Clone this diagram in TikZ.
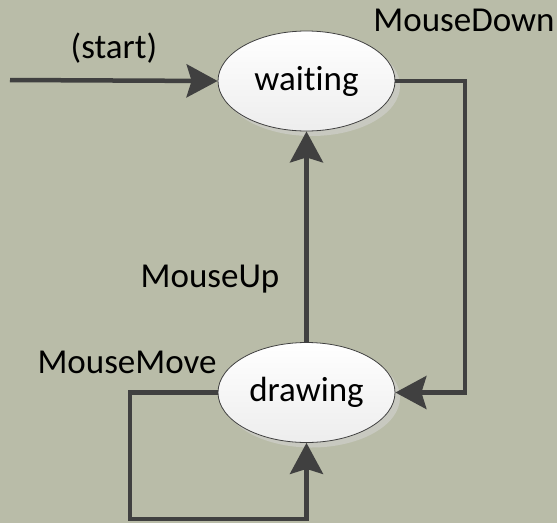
\documentclass[tikz,border=0pt]{standalone}
\usepackage{fontspec}
\setmainfont{Carlito}[Ligatures={NoCommon,NoContextual}]
\usetikzlibrary{arrows.meta,shadows,shapes.geometric}
\definecolor{bgcol}{RGB}{185,188,168}
\definecolor{linecol}{RGB}{64,64,64}
\definecolor{shadowcol}{RGB}{200,201,192}
\tikzset{
  statebox/.style={ellipse, minimum width=177pt, minimum height=100pt, inner sep=0pt,
    draw=black!75, line width=0.8pt, top color=white, bottom color=black!7,
    font=\fontsize{35}{42}\selectfont,
    drop shadow={shadow xshift=5pt, shadow yshift=-5pt, fill=shadowcol, opacity=1}},
  conn/.style={draw=linecol, line width=4.5pt, line join=miter,
    -{Stealth[length=31pt,width=33pt,inset=5pt]}},
  lbl/.style={anchor=base, inner sep=0pt, font=\fontsize{35}{42}\selectfont}
}
\begin{document}
\begin{tikzpicture}[x=1pt,y=-1pt]
\useasboundingbox (0,0) rectangle (557,523);
\fill[bgcol] (0,0) rectangle (557,523);
\node[statebox] (waiting) at (306.5,81) {waiting};
\node[statebox] (drawing) at (306.5,392.5) {drawing};
\coordinate (start) at (10,80);
\coordinate (c1) at (465,81);
\coordinate (c2) at (465,392.5);
\coordinate (c3) at (130,392.5);
\coordinate (c4) at (130,519);
\coordinate (c5) at (306.5,519);
\draw[conn] (start) -- (waiting.west);
\draw[conn] (waiting.east) -- (c1) -- (c2) -- (drawing.east);
\draw[conn] (drawing.north) -- (waiting.south);
\draw[conn] (drawing.west) -- (c3) -- (c4) -- (c5) -- (drawing.south);
\node[lbl] (lstart) at (114,58) {(start)};
\node[lbl] (ldown) at (464,31) {MouseDown};
\node[lbl] (lup) at (210,287) {MouseUp};
\node[lbl] (lmove) at (127,373) {MouseMove};
\end{tikzpicture}
\end{document}
